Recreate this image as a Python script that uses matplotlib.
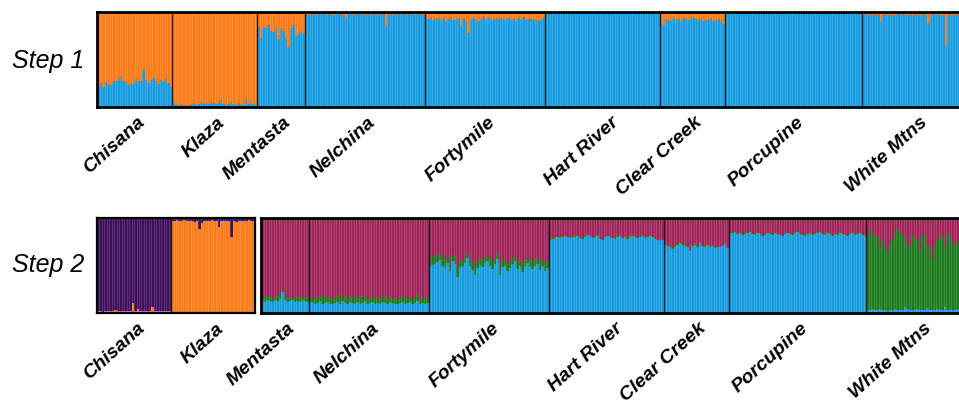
import numpy as np
import matplotlib.pyplot as plt

plt.rcParams['font.family'] = ['Liberation Sans', 'DejaVu Sans']

pops = ['Chisana', 'Klaza', 'Mentasta', 'Nelchina', 'Fortymile',
        'Hart River', 'Clear Creek', 'Porcupine', 'White Mtns']
# label shift to the right of the herd centre, in individuals
label_nudge = [1.0, 1.0, 1.0, 1.0, 1.0, 3.5, 1.0, 1.0, 1.0]

orange = '#FB7A15'
blue = '#179BE1'
purple = '#3E0E5B'
maroon = '#A0245A'
green = '#1E7A1E'

# Step 1 (K=2): proportion of blue cluster per individual, rest is orange
s1_blue = {
    'Chisana': [0.23, 0.25, 0.21, 0.26, 0.24, 0.23, 0.27, 0.27, 0.29, 0.33, 0.27, 0.26, 0.23, 0.25, 0.24,
                0.29, 0.27, 0.27, 0.39, 0.28, 0.25, 0.28, 0.30, 0.27, 0.24, 0.28, 0.26, 0.30, 0.25, 0.21],
    'Klaza': [0.04, 0.03, 0.02, 0.03, 0.02, 0.02, 0.02, 0.03, 0.04, 0.02, 0.03, 0.05, 0.03, 0.04, 0.03, 0.06, 0.04,
              0.03, 0.04, 0.07, 0.03, 0.02, 0.03, 0.05, 0.03, 0.02, 0.04, 0.03, 0.02, 0.08, 0.03, 0.04, 0.03, 0.02],
    'Mentasta': [0.84, 0.73, 0.83, 0.84, 0.86, 0.80, 0.79, 0.84, 0.72, 0.83, 0.80, 0.73, 0.63, 0.83, 0.86, 0.75,
                 0.77, 0.80, 0.77],
    'Nelchina': [0.98, 0.97, 0.98, 0.98, 0.97, 0.98, 0.99, 0.98, 0.97, 0.98, 0.98, 0.97, 0.98, 0.99, 0.98, 0.97,
                 0.94, 0.98, 0.98, 0.97, 0.98, 0.98, 0.99, 0.97, 0.98, 0.98, 0.97, 0.98, 0.98, 0.97, 0.98, 0.98,
                 0.85, 0.97, 0.98, 0.98, 0.97, 0.98, 0.98, 0.98, 0.97, 0.98, 0.99, 0.98, 0.97, 0.98, 0.98, 0.97],
    'Fortymile': [0.94, 0.93, 0.95, 0.92, 0.94, 0.93, 0.92, 0.94, 0.91, 0.93, 0.95, 0.92, 0.93, 0.94, 0.86, 0.93,
                  0.91, 0.78, 0.92, 0.94, 0.93, 0.91, 0.93, 0.95, 0.92, 0.94, 0.93, 0.92, 0.94, 0.93, 0.95, 0.92,
                  0.93, 0.94, 0.92, 0.93, 0.91, 0.94, 0.93, 0.95, 0.92, 0.93, 0.94, 0.92, 0.93, 0.90, 0.92, 0.94],
    'Hart River': [0.98, 0.99, 0.98, 0.98, 0.99, 0.98, 0.98, 0.99, 0.98, 0.98, 0.98, 0.99, 0.98, 0.98, 0.99, 0.98,
                   0.98, 0.98, 0.99, 0.98, 0.98, 0.99, 0.98, 0.98, 0.98, 0.99, 0.98, 0.98, 0.99, 0.98, 0.98, 0.98,
                   0.99, 0.98, 0.98, 0.98, 0.99, 0.98, 0.98, 0.99, 0.98, 0.98, 0.98, 0.99, 0.98, 0.98],
    'Clear Creek': [0.89, 0.86, 0.93, 0.92, 0.90, 0.94, 0.92, 0.93, 0.91, 0.94, 0.93, 0.92, 0.95, 0.94, 0.93,
                    0.92, 0.94, 0.91, 0.93, 0.92, 0.94, 0.90, 0.92, 0.93, 0.91, 0.87],
    'Porcupine': [0.98, 0.99, 0.99, 0.98, 0.99, 0.99, 0.98, 0.99, 0.98, 0.99, 0.99, 0.98, 0.99, 0.99, 0.98, 0.99,
                  0.99, 0.98, 0.99, 0.98, 0.99, 0.99, 0.98, 0.99, 0.99, 0.98, 0.99, 0.98, 0.99, 0.99, 0.98, 0.99,
                  0.99, 0.98, 0.99, 0.98, 0.99, 0.99, 0.98, 0.99, 0.99, 0.98, 0.99, 0.98, 0.99, 0.99, 0.98, 0.99,
                  0.99, 0.98, 0.99, 0.98, 0.99, 0.99, 0.98],
    'White Mtns': [0.97, 0.98, 0.97, 0.98, 0.97, 0.98, 0.97, 0.90, 0.97, 0.98, 0.97, 0.98, 0.97, 0.97, 0.98, 0.97,
                   0.98, 0.97, 0.97, 0.98, 0.97, 0.98, 0.97, 0.97, 0.98, 0.97, 0.88, 0.97, 0.98, 0.97, 0.98, 0.97,
                   0.97, 0.65, 0.97, 0.98, 0.97, 0.98, 0.97, 0.98, 0.97, 0.97, 0.98, 0.97],
}

# Step 2a (Chisana + Klaza): orange proportion at the bottom, rest purple
s2_orange = {
    'Chisana': [0.02, 0.02, 0.01, 0.02, 0.02, 0.02, 0.02, 0.03, 0.02, 0.02, 0.02, 0.02, 0.02, 0.02, 0.11,
                0.02, 0.04, 0.02, 0.02, 0.02, 0.02, 0.02, 0.06, 0.02, 0.02, 0.02, 0.02, 0.02, 0.02, 0.02],
    'Klaza': [0.97, 0.97, 0.98, 0.97, 0.97, 0.98, 0.97, 0.97, 0.97, 0.96, 0.97, 0.88, 0.95, 0.97, 0.97, 0.97, 0.98,
              0.97, 0.97, 0.91, 0.97, 0.97, 0.97, 0.97, 0.80, 0.97, 0.96, 0.97, 0.97, 0.97, 0.97, 0.98, 0.97, 0.97],
}

# Step 2b (remaining herds): blue and green proportions, rest maroon
s2_blue = {
    'Mentasta': [0.13, 0.12, 0.14, 0.13, 0.12, 0.14, 0.13, 0.15, 0.22, 0.14, 0.12, 0.13, 0.14, 0.12, 0.13, 0.12,
                 0.14, 0.13, 0.12],
    'Nelchina': [0.11, 0.12, 0.10, 0.11, 0.13, 0.10, 0.11, 0.12, 0.10, 0.09, 0.11, 0.12, 0.10, 0.13, 0.11, 0.10,
                 0.12, 0.11, 0.09, 0.12, 0.10, 0.11, 0.13, 0.10, 0.11, 0.12, 0.10, 0.11, 0.09, 0.12, 0.11, 0.10,
                 0.12, 0.11, 0.10, 0.09, 0.11, 0.12, 0.10, 0.11, 0.12, 0.10, 0.11, 0.13, 0.10, 0.11, 0.10, 0.11],
    'Fortymile': [0.49, 0.51, 0.52, 0.54, 0.56, 0.50, 0.47, 0.53, 0.44, 0.55, 0.52, 0.38, 0.47, 0.50, 0.53, 0.58,
                  0.49, 0.45, 0.40, 0.47, 0.51, 0.48, 0.53, 0.55, 0.50, 0.46, 0.52, 0.57, 0.40, 0.48, 0.50, 0.44,
                  0.47, 0.52, 0.55, 0.46, 0.49, 0.43, 0.50, 0.53, 0.48, 0.46, 0.50, 0.52, 0.45, 0.50, 0.44, 0.47],
    'Hart River': [0.77, 0.78, 0.79, 0.80, 0.79, 0.80, 0.81, 0.80, 0.79, 0.80, 0.80, 0.81, 0.79, 0.78, 0.80, 0.82,
                   0.81, 0.79, 0.80, 0.81, 0.78, 0.77, 0.80, 0.81, 0.80, 0.79, 0.78, 0.80, 0.81, 0.79, 0.80, 0.78,
                   0.80, 0.81, 0.80, 0.79, 0.80, 0.81, 0.79, 0.80, 0.81, 0.80, 0.78, 0.77, 0.76, 0.77],
    'Clear Creek': [0.72, 0.71, 0.69, 0.67, 0.70, 0.72, 0.74, 0.72, 0.71, 0.70, 0.65, 0.71, 0.72, 0.70, 0.74,
                    0.71, 0.69, 0.72, 0.70, 0.71, 0.68, 0.70, 0.69, 0.71, 0.73, 0.68],
    'Porcupine': [0.83, 0.84, 0.85, 0.83, 0.84, 0.82, 0.83, 0.84, 0.85, 0.83, 0.82, 0.84, 0.83, 0.81, 0.82, 0.84,
                  0.83, 0.82, 0.84, 0.83, 0.82, 0.81, 0.83, 0.84, 0.83, 0.82, 0.84, 0.85, 0.83, 0.82, 0.81, 0.83,
                  0.84, 0.82, 0.83, 0.84, 0.85, 0.83, 0.82, 0.84, 0.83, 0.81, 0.83, 0.82, 0.84, 0.83, 0.82, 0.81,
                  0.83, 0.84, 0.82, 0.83, 0.84, 0.82, 0.81],
    'White Mtns': [0.03, 0.03, 0.04, 0.03, 0.03, 0.04, 0.03, 0.03, 0.02, 0.03, 0.03, 0.04, 0.03, 0.03, 0.03, 0.06,
                   0.04, 0.03, 0.03, 0.03, 0.04, 0.03, 0.03, 0.03, 0.05, 0.03, 0.03, 0.03, 0.04, 0.03, 0.03, 0.06,
                   0.03, 0.03, 0.03, 0.03, 0.04, 0.03, 0.03, 0.03, 0.03, 0.04, 0.03, 0.03],
}
s2_green = {
    'Mentasta': [0.04, 0.05, 0.04, 0.05, 0.04, 0.03, 0.05, 0.04, 0.03, 0.04, 0.05, 0.04, 0.03, 0.05, 0.04, 0.05,
                 0.04, 0.04, 0.05],
    'Nelchina': [0.06, 0.05, 0.07, 0.05, 0.06, 0.08, 0.05, 0.06, 0.07, 0.05, 0.06, 0.07, 0.05, 0.06, 0.09, 0.05,
                 0.06, 0.07, 0.05, 0.06, 0.05, 0.07, 0.06, 0.05, 0.06, 0.07, 0.05, 0.06, 0.05, 0.07, 0.06, 0.05,
                 0.06, 0.05, 0.07, 0.06, 0.05, 0.06, 0.07, 0.05, 0.06, 0.05, 0.06, 0.07, 0.05, 0.06, 0.05, 0.06],
    'Fortymile': [0.08, 0.09, 0.07, 0.08, 0.06, 0.09, 0.10, 0.07, 0.08, 0.06, 0.09, 0.11, 0.08, 0.07, 0.06, 0.05,
                  0.08, 0.09, 0.10, 0.08, 0.07, 0.09, 0.06, 0.05, 0.08, 0.09, 0.07, 0.06, 0.10, 0.08, 0.07, 0.09,
                  0.08, 0.07, 0.06, 0.09, 0.08, 0.10, 0.07, 0.06, 0.08, 0.09, 0.07, 0.06, 0.08, 0.07, 0.09, 0.08],
    'Hart River': [0.01, 0.015, 0.01, 0.01, 0.015, 0.01, 0.01, 0.01, 0.015, 0.01, 0.01, 0.01, 0.015, 0.01, 0.01,
                   0.01, 0.015, 0.01, 0.01, 0.01, 0.015, 0.01, 0.01, 0.01, 0.015, 0.01, 0.01, 0.01, 0.015, 0.01,
                   0.01, 0.01, 0.015, 0.01, 0.01, 0.01, 0.015, 0.01, 0.01, 0.01, 0.015, 0.01, 0.01, 0.01, 0.015,
                   0.01],
    'Clear Creek': [0.01, 0.015, 0.01, 0.01, 0.015, 0.01, 0.01, 0.01, 0.015, 0.01, 0.01, 0.01, 0.015, 0.01,
                    0.01, 0.01, 0.015, 0.01, 0.01, 0.01, 0.015, 0.01, 0.01, 0.01, 0.015, 0.01],
    'Porcupine': [0.01, 0.01, 0.015, 0.01, 0.01, 0.01, 0.015, 0.01, 0.01, 0.01, 0.015, 0.01, 0.01, 0.01, 0.015,
                  0.01, 0.01, 0.01, 0.015, 0.01, 0.01, 0.01, 0.015, 0.01, 0.01, 0.01, 0.015, 0.01, 0.01, 0.01,
                  0.015, 0.01, 0.01, 0.01, 0.015, 0.01, 0.01, 0.01, 0.015, 0.01, 0.01, 0.01, 0.015, 0.01, 0.01,
                  0.01, 0.015, 0.01, 0.01, 0.01, 0.015, 0.01, 0.01, 0.01, 0.015],
    'White Mtns': [0.79, 0.85, 0.80, 0.76, 0.79, 0.64, 0.74, 0.69, 0.63, 0.70, 0.74, 0.82, 0.85, 0.81, 0.81, 0.73,
                   0.68, 0.67, 0.79, 0.76, 0.73, 0.62, 0.79, 0.81, 0.67, 0.65, 0.55, 0.69, 0.73, 0.81, 0.76, 0.64,
                   0.81, 0.77, 0.72, 0.65, 0.72, 0.79, 0.71, 0.67, 0.75, 0.77, 0.72, 0.69],
}


def draw_panel(ax, names, layers, colors, nudge):
    # layers are stacked from the bottom, the last colour fills up to 1
    sizes = [len(layers[0][p]) for p in names]
    x = np.arange(sum(sizes))
    vals = [np.concatenate([lay[p] for p in names]) for lay in layers]
    bottom = np.zeros(len(x))
    for v, c in zip(vals, colors[:-1]):
        ax.bar(x, v, bottom=bottom, width=1.0, align='edge', color=c, linewidth=0)
        bottom = bottom + v
    ax.bar(x, 1 - bottom, bottom=bottom, width=1.0, align='edge', color=colors[-1], linewidth=0)
    ax.vlines(x[1:], 0, 1, colors='white', alpha=0.22, lw=0.5)
    edges = np.cumsum(sizes)
    ax.vlines(edges[:-1], 0, 1, colors='#1a1a1a', lw=0.9)
    ax.set_xlim(0, len(x))
    ax.set_ylim(0, 1)
    starts = edges - np.array(sizes)
    centers = starts + np.array(sizes) / 2 + np.array(nudge)
    ax.set_xticks(centers)
    ax.set_xticklabels(names, rotation=42, ha='right', rotation_mode='anchor',
                       fontsize=14, fontweight='bold', fontstyle='italic')
    ax.tick_params(axis='x', length=0, pad=5)
    ax.set_yticks([])
    for s in ax.spines.values():
        s.set_linewidth(2)
        s.set_color('black')


W, H = 959, 411
fig = plt.figure(figsize=(W / 100, H / 100), dpi=100)

ax1 = fig.add_axes([97 / W, (H - 107) / H, 875 / W, 95 / H])
draw_panel(ax1, pops, [s1_blue], [blue, orange], label_nudge)

ax2a = fig.add_axes([97 / W, (H - 313) / H, 158 / W, 95 / H])
draw_panel(ax2a, pops[:2], [s2_orange], [orange, purple], label_nudge[:2])
for s in ax2a.spines.values():
    s.set_linewidth(1.6)

ax2b = fig.add_axes([261 / W, (H - 313) / H, 715 / W, 95 / H])
draw_panel(ax2b, pops[2:], [s2_blue, s2_green], [blue, green, maroon], label_nudge[2:])

fig.text(48 / W, (H - 61) / H, 'Step 1', fontsize=18, style='italic', ha='center', va='center')
fig.text(48 / W, (H - 265) / H, 'Step 2', fontsize=18, style='italic', ha='center', va='center')

fig.savefig('out.png', dpi=100)
